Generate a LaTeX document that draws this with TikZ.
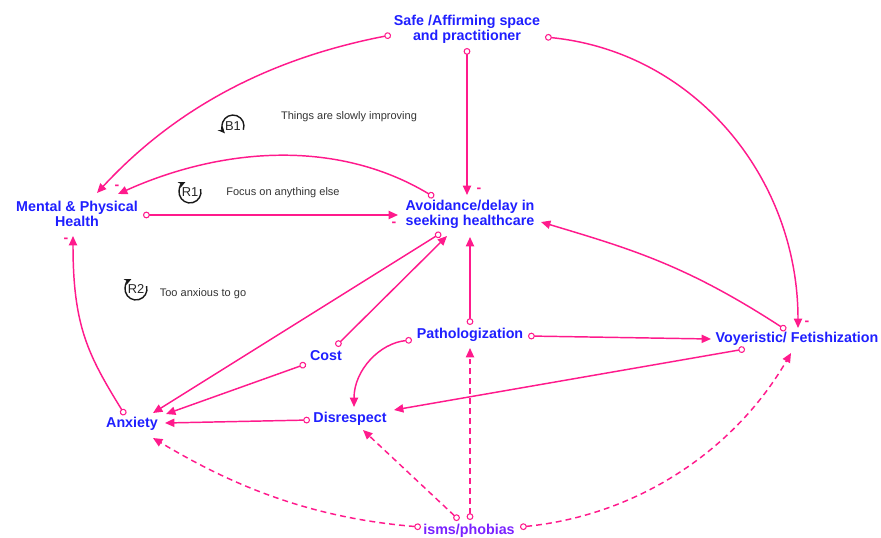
\documentclass[tikz,border=0pt]{standalone}
\usepackage{fontspec}
\setmainfont{Liberation Sans}
\usetikzlibrary{arrows.meta}
\definecolor{linkpink}{HTML}{FF1A8C}
\definecolor{varblue}{HTML}{1F1FFF}
\definecolor{rootviolet}{HTML}{7A22FF}
\definecolor{notegray}{HTML}{333333}
\begin{document}
\begin{tikzpicture}[x=0.03cm,y=-0.03cm,
  var/.style={font=\bfseries\fontsize{12.2}{12.8}\selectfont, text=varblue, align=center, inner sep=0pt, outer sep=0pt},
  link/.style={draw=linkpink, line width=1.25pt,
    {Circle[open,fill=white,length=5.8pt,width=5.8pt,line width=0.9pt]}-{Triangle[length=8pt,width=7pt]}},
  weak/.style={link, dash pattern=on 5pt off 3.5pt},
  sign/.style={font=\bfseries\fontsize{12}{12}\selectfont, text=linkpink, inner sep=0pt},
  note/.style={font=\fontsize{9.4}{11}\selectfont, text=notegray, inner sep=0pt},
  loopmark/.style={circle, minimum size=18.7pt, inner sep=0pt, outer sep=0pt,
    font=\fontsize{11}{12}\selectfont, text=black!85},
  looparc/.style={draw=black!90, line width=1.2pt, -{Stealth[length=6pt,width=5.5pt]}}
]
\useasboundingbox (0,0) rectangle (881,537);

% variables
\node[var] (safe) at (467,29) {Safe /Affirming space\\and practitioner};
\node[var] (mph)  at (77,214) {Mental \& Physical\\Health};
\node[var] (av)   at (470,214) {Avoidance/delay in\\seeking healthcare};
\node[var] (cost) at (326,356) {Cost};
\node[var] (path) at (470,335) {Pathologization};
\node[var] (voy)  at (797,339) {Voyeristic/ Fetishization};
\node[var] (anx)  at (132,424) {Anxiety};
\node[var] (dis)  at (350,419) {Disrespect};
\node[var, text=rootviolet] (isms) at (469,531) {isms/phobias};

% causal links
\draw[link] ([shift={(-76,6)}]safe.center) .. controls +(-129,25) and +(74,-80) .. ([shift={(20,-21)}]mph.center);
\draw[link] ([shift={(0,19)}]safe.center) -- ([shift={(-3,-19)}]av.center);
\draw[link] ([shift={(78,8)}]safe.center) .. controls +(150,15) and +(0,-150) .. ([shift={(1,-11)}]voy.center);
\draw[link] ([shift={(-36,-17)}]av.center) .. controls +(-100,-60) and +(100,-45) .. ([shift={(41,-20)}]mph.center);
\draw[link] ([shift={(66,1)}]mph.center) -- ([shift={(-72,1)}]av.center);
\draw[link] ([shift={(-7,-9)}]anx.center) .. controls +(-37,-60) and +(0,90) .. ([shift={(-4,22)}]mph.center);
\draw[link] ([shift={(-29,19)}]av.center) -- ([shift={(21,-11)}]anx.center);
\draw[link] ([shift={(10,-10)}]cost.center) -- ([shift={(-23,22)}]av.center);
\draw[link] ([shift={(-20,8)}]cost.center) -- ([shift={(34,-10)}]anx.center);
\draw[link] ([shift={(0,-10)}]path.center) -- ([shift={(0,23)}]av.center);
\draw[link] ([shift={(58,1)}]path.center) -- ([shift={(-86,0)}]voy.center);
\draw[link] ([shift={(-11,-9)}]voy.center) .. controls +(-100,-65) and +(90,27) .. ([shift={(71,8)}]av.center);
\draw[link] ([shift={(-58,5)}]path.center) .. controls +(-32,3) and +(0,-37) .. ([shift={(4,-12)}]dis.center);
\draw[link] ([shift={(-52,10)}]voy.center) -- ([shift={(44,-9)}]dis.center);
\draw[link] ([shift={(-40,1)}]dis.center) -- ([shift={(33,-1)}]anx.center);

% links from isms/phobias
\draw[weak] ([shift={(-48,-4)}]isms.center) .. controls +(-110,-9) and +(80,48) .. ([shift={(21,14)}]anx.center);
\draw[weak] ([shift={(-10,-11)}]isms.center) -- ([shift={(13,11)}]dis.center);
\draw[weak] ([shift={(1,-11)}]isms.center) -- ([shift={(0,13)}]path.center);
\draw[weak] ([shift={(51,-4)}]isms.center) .. controls +(120,-12) and +(-55,95) .. ([shift={(-6,14)}]voy.center);

% polarity signs
\node[sign] (s1) at (117,187) {-};
\node[sign] (s2) at (394,224) {-};
\node[sign] (s3) at (479,190) {-};
\node[sign] (s4) at (807,323) {-};
\node[sign] (s5) at (66,240) {-};

% loop names
\node[note] (n1) at (349,117) {Things are slowly improving};
\node[note] (n2) at (283,193) {Focus on anything else};
\node[note] (n3) at (203,294) {Too anxious to go};

% loop markers: a circular arrow around each loop name
\node[loopmark] (b1) at (233,126) {B1};
\node[loopmark] (r1) at (190,192) {R1};
\node[loopmark] (r2) at (136,289) {R2};
\begin{scope}[shift={(b1.center)}, x=1pt, y=1pt]
  \draw[looparc] (-20:9.35) arc[start angle=-20, end angle=222, radius=9.35];
\end{scope}
\begin{scope}[shift={(r1.center)}, x=1pt, y=1pt]
  \draw[looparc] (15:9.35) arc[start angle=15, end angle=-245, radius=9.35];
\end{scope}
\begin{scope}[shift={(r2.center)}, x=1pt, y=1pt]
  \draw[looparc] (15:9.35) arc[start angle=15, end angle=-245, radius=9.35];
\end{scope}
\end{tikzpicture}
\end{document}
